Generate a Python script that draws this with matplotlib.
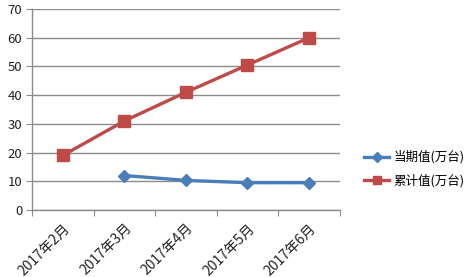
import numpy as np
import matplotlib
matplotlib.use("Agg")
import matplotlib.pyplot as plt

plt.rcParams['font.family'] = ['Noto Sans CJK SC', 'DejaVu Sans']

categories = ["2017年2月", "2017年3月", "2017年4月", "2017年5月", "2017年6月"]
current = [np.nan, 12, 10.3, 9.5, 9.5]
cumulative = [19, 31, 41, 50.5, 60]
series_names = ["当期值(万台)", "累计值(万台)"]
yticks = [0, 10, 20, 30, 40, 50, 60, 70]

fig = plt.figure(figsize=(4.74, 2.77), dpi=100)
ax = fig.add_axes([0.0675, 0.242, 0.6495, 0.7255])

x = np.arange(len(categories))
blue = "#4A7EBB"
red = "#BE4B48"
l1, = ax.plot(x, current, color=blue, lw=2.4, marker="D", ms=6.5,
              mfc=blue, mec=blue, label=series_names[0])
l2, = ax.plot(x, cumulative, color=red, lw=2.4, marker="s", ms=8,
              mfc=red, mec=red, label=series_names[1])

ax.set_xlim(-0.5, len(categories) - 0.5)
ax.set_ylim(0, 70)
ax.set_yticks(yticks)
ax.set_yticklabels([str(v) for v in yticks], fontsize=9.5, color="#222222")
ax.yaxis.grid(True, color="#8c8c8c", lw=1)
ax.set_axisbelow(True)

ax.set_xticks(np.arange(-0.5, len(categories)))
ax.set_xticklabels([])
ax.set_xticks(x, minor=True)
ax.set_xticklabels(categories, minor=True, rotation=45, ha="right",
                   rotation_mode="anchor", fontsize=10, color="#222222")
ax.tick_params(axis="x", which="minor", length=0, pad=8)
ax.tick_params(axis="x", which="major", length=4, color="#8c8c8c", direction="out")
ax.tick_params(axis="y", length=4, color="#8c8c8c", pad=3)

for s in ["top", "right"]:
    ax.spines[s].set_visible(False)
for s in ["left", "bottom"]:
    ax.spines[s].set_color("#8c8c8c")
    ax.spines[s].set_linewidth(1)

fig.legend(handles=[l1, l2], loc="center left", bbox_to_anchor=(0.745, 0.39),
           frameon=False, fontsize=9, handlelength=2.0, handletextpad=0.3,
           labelspacing=0.8, markerscale=0.8)

fig.savefig("out.png", dpi=100)
